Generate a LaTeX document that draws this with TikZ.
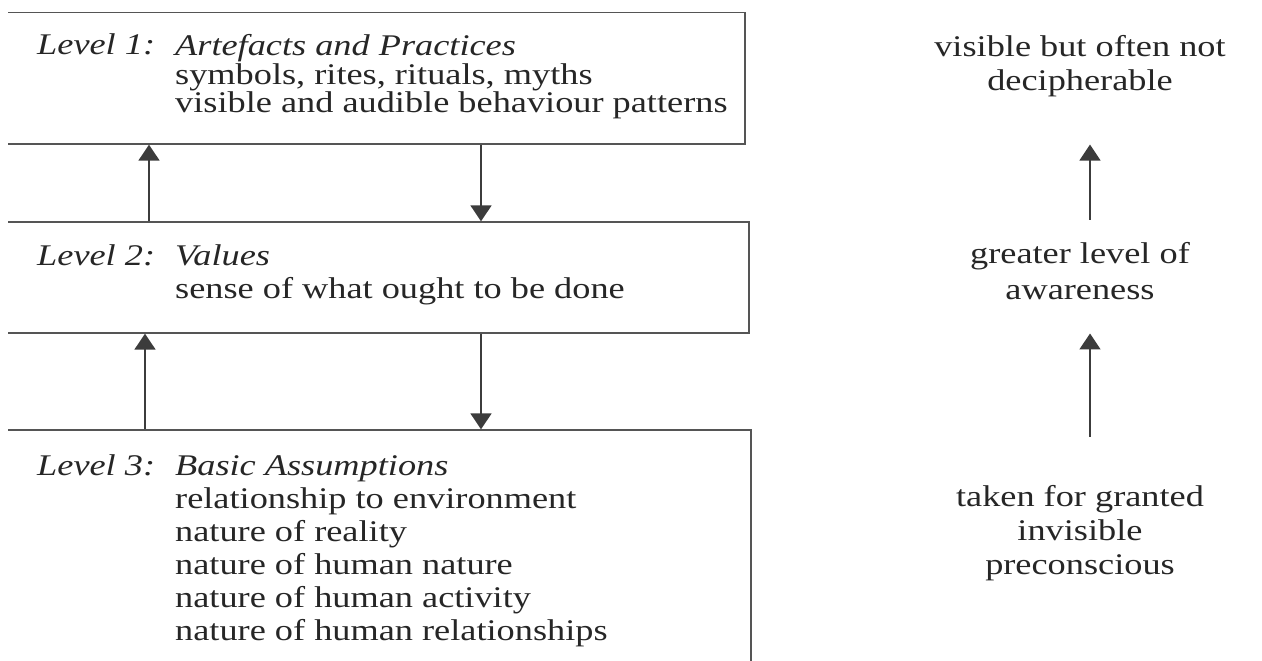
\documentclass[tikz,border=0pt]{standalone}
\usepackage{fontspec}
\setmainfont{Liberation Serif}[FakeStretch=1.21]
\usepackage{tikz}
\usetikzlibrary{arrows.meta, fit, positioning}
\definecolor{inkgray}{RGB}{38,38,38}
\definecolor{rulegray}{RGB}{85,85,85}
\definecolor{arrowgray}{RGB}{60,60,60}
\tikzset{
  levelbox/.style={rectangle, draw=rulegray, line width=1.3pt, inner sep=0pt},
  tagtext/.style={anchor=base west, inner sep=0pt, text=inkgray,
    font=\fontsize{30}{28}\selectfont\itshape},
  bodytext/.style={anchor=base west, inner sep=0pt, align=left, text=inkgray},
  sidetext/.style={anchor=base, inner sep=0pt, align=center, text=inkgray,
    font=\fontsize{30}{34}\selectfont},
  arrow/.style={-{Triangle[width=21pt, length=16pt]}, line width=1.6pt, color=arrowgray},
}

\begin{document}
\begin{tikzpicture}[x=1pt, y=-1pt]
  \useasboundingbox (0,0) rectangle (1262,661);
  \clip (8,0) rectangle (1262,661);
  % level boxes, cut off at the left edge
  \node[levelbox, fit={(-30,12.5) (745,144)}] (lvlone) {};
  \node[levelbox, fit={(-30,222) (749,333)}] (lvltwo) {};
  \node[levelbox, fit={(-30,430) (751,700)}] (lvlthree) {};

  % multi-line nodes sit on their last baseline
  \node[tagtext] (lvlonetag) at (37,55) {Level 1:};
  \node[bodytext, font=\fontsize{30}{29}\selectfont] (lvlonebody) at (175,113)
    {\textit{Artefacts and Practices}\\symbols, rites, rituals, myths\\visible and audible behaviour patterns};
  \node[tagtext] (lvltwotag) at (37,265) {Level 2:};
  \node[bodytext, font=\fontsize{30}{33}\selectfont] (lvltwobody) at (175,298)
    {\textit{Values}\\sense of what ought to be done};
  \node[tagtext] (lvlthreetag) at (37,475) {Level 3:};
  \node[bodytext, font=\fontsize{30}{33}\selectfont] (lvlthreebody) at (175,640)
    {\textit{Basic Assumptions}\\relationship to environment\\nature of reality\\nature of human nature\\nature of human activity\\nature of human relationships};

  \coordinate (upa) at (149,0);
  \coordinate (upb) at (145,0);
  \coordinate (downx) at (481,0);
  \coordinate (rcol) at (1090,0);
  \draw[arrow] (lvltwo.north -| upa) -- (lvlone.south -| upa);
  \draw[arrow] (lvlone.south -| downx) -- (lvltwo.north -| downx);
  \draw[arrow] (lvlthree.north -| upb) -- (lvltwo.south -| upb);
  \draw[arrow] (lvltwo.south -| downx) -- (lvlthree.north -| downx);

  % awareness column
  \node[sidetext, font=\fontsize{30}{35}\selectfont] (visible) at (1080,91) {visible but often not\\decipherable};
  \node[sidetext, font=\fontsize{30}{36}\selectfont] (greater) at (1080,299) {greater level of\\awareness};
  \node[sidetext] (taken) at (1080,574) {taken for granted\\invisible\\preconscious};
  \draw[arrow, shorten <=22pt, shorten >=47pt] (greater.north -| rcol) -- (visible.south -| rcol);
  \draw[arrow, shorten <=48pt, shorten >=34pt] (taken.north -| rcol) -- (greater.south -| rcol);
\end{tikzpicture}
\end{document}
